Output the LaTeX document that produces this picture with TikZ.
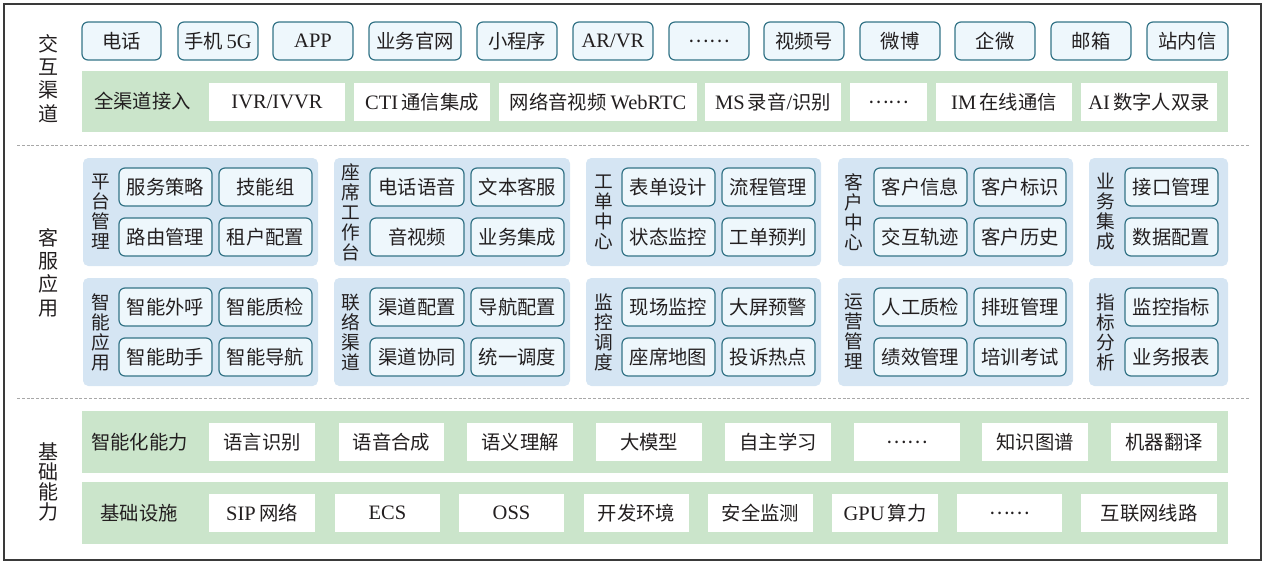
\documentclass[tikz,border=0pt]{standalone}
\usepackage{fontspec}
\setmainfont{Noto Sans CJK SC}
\newfontfamily\lat[Scale=1.06]{Liberation Serif}
\definecolor{chanfill}{HTML}{EEF7FC}
\definecolor{chanline}{HTML}{347487}
\definecolor{bandfill}{HTML}{CBE5CB}
\definecolor{panelfill}{HTML}{D5E5F3}
\definecolor{txt}{HTML}{231F20}
\definecolor{sepgray}{HTML}{A8A8A8}
\definecolor{framegray}{HTML}{3A3A3A}
\newcommand\mydots{\vphantom{电}\raisebox{0.3em}{……}}
\tikzset{
  base/.style={inner sep=0pt, outer sep=0pt, text=txt, font=\fontsize{14.5}{17}\selectfont},
  chan/.style={base, fill=chanfill, draw=chanline, line width=0.9pt, rounded corners=4.5pt},
  band/.style={base, fill=bandfill},
  wbox/.style={base, fill=white},
  panel/.style={base, fill=panelfill, rounded corners=4pt},
  frm/.style={base, draw=framegray, line width=1.2pt},
  vlab/.style={base, align=center, font=\fontsize{14}{15}\selectfont},
  sidelab/.style={base, align=center, font=\fontsize{15}{17.5}\selectfont},
  sidelabb/.style={base, align=center, font=\fontsize{15}{15.2}\selectfont},
  plab/.style={base},
  sep/.style={draw=sepgray, line width=0.8pt, dash pattern=on 2.2pt off 1.4pt},
}
\newcommand\rbox[7]{%
  \pgfmathsetmacro\rbw{(#5-#3)*0.75}%
  \pgfmathsetmacro\rbh{(#6-#4)*0.75}%
  \node[#1, minimum width=\rbw pt, minimum height=\rbh pt] (#2) at ({(#3+#5)/2},{(#4+#6)/2}) {#7};}
\begin{document}
\begin{tikzpicture}[x=0.75pt,y=-0.75pt]
\useasboundingbox (0,0) rectangle (1268,565);
\rbox{frm}{frame}{4}{4}{1261}{560}{}
% separators
\coordinate (s1a) at (17,145.5); \coordinate (s1b) at (1249,145.5);
\coordinate (s2a) at (17,398.5); \coordinate (s2b) at (1249,398.5);
\draw[sep] (s1a) -- (s1b);
\draw[sep] (s2a) -- (s2b);
% side labels
\node[sidelab] (L1) at (48,78.5) {交\\互\\渠\\道};
\node[sidelab] (L2) at (48,272.5) {客\\服\\应\\用};
\node[sidelabb] (L3) at (48,482) {基\\础\\能\\力};
% top channel row
\rbox{chan}{t1}{82}{22}{161}{60}{电话}
\rbox{chan}{t2}{178}{22}{258}{60}{手机{\lat\,5G}}
\rbox{chan}{t3}{273}{22}{353}{60}{{\lat APP}}
\rbox{chan}{t4}{369}{22}{461}{60}{业务官网}
\rbox{chan}{t5}{477}{22}{557}{60}{小程序}
\rbox{chan}{t6}{573}{22}{653}{60}{{\lat AR/VR}}
\rbox{chan}{t7}{669}{22}{749}{60}{\mydots}
\rbox{chan}{t8}{764}{22}{844}{60}{视频号}
\rbox{chan}{t9}{860}{22}{940}{60}{微博}
\rbox{chan}{t10}{955}{22}{1035}{60}{企微}
\rbox{chan}{t11}{1051}{22}{1131}{60}{邮箱}
\rbox{chan}{t12}{1147}{22}{1228}{60}{站内信}
% access band
\rbox{band}{b1}{82}{71}{1228}{132}{}
\node[plab] (b1l) at (142.5,101.5) {全渠道接入};
\rbox{wbox}{a1}{209}{83}{345}{121}{{\lat IVR/IVVR}}
\rbox{wbox}{a2}{354}{83}{490}{121}{{\lat CTI}\,通信集成}
\rbox{wbox}{a3}{499}{83}{697}{121}{网络音视频 {\lat WebRTC}}
\rbox{wbox}{a4}{705}{83}{841}{121}{{\lat MS}\,录音{\lat /}识别}
\rbox{wbox}{a5}{850}{83}{927}{121}{\mydots}
\rbox{wbox}{a6}{936}{83}{1072}{121}{{\lat IM}\,在线通信}
\rbox{wbox}{a7}{1081}{83}{1217}{121}{{\lat AI}\,数字人双录}
% application panels row 1
\rbox{panel}{p1}{83}{158}{318}{266}{}
\rbox{panel}{p2}{334}{158}{570}{266}{}
\rbox{panel}{p3}{586}{158}{821}{266}{}
\rbox{panel}{p4}{838}{158}{1073}{266}{}
\rbox{panel}{p5}{1089}{158}{1228}{266}{}
% row 2
\rbox{panel}{q1}{83}{278}{318}{386}{}
\rbox{panel}{q2}{334}{278}{570}{386}{}
\rbox{panel}{q3}{586}{278}{821}{386}{}
\rbox{panel}{q4}{838}{278}{1073}{386}{}
\rbox{panel}{q5}{1089}{278}{1228}{386}{}
% panel labels
\node[vlab] (p1l) at (101,212) {平\\台\\管\\理};
\node[vlab] (p2l) at (351,212) {座\\席\\工\\作\\台};
\node[vlab] (p3l) at (604,212) {工\\单\\中\\心};
\node[vlab] (p4l) at (854,212) {客\\户\\中\\心};
\node[vlab] (p5l) at (1106,212) {业\\务\\集\\成};
\node[vlab] (q1l) at (101,332) {智\\能\\应\\用};
\node[vlab] (q2l) at (351,332) {联\\络\\渠\\道};
\node[vlab] (q3l) at (604,332) {监\\控\\调\\度};
\node[vlab] (q4l) at (854,332) {运\\营\\管\\理};
\node[vlab] (q5l) at (1106,332) {指\\标\\分\\析};
% inner boxes row 1
\rbox{chan}{p1a}{119}{168}{212}{206}{服务策略}
\rbox{chan}{p1b}{219}{168}{312}{206}{技能组}
\rbox{chan}{p1c}{119}{218}{212}{256}{路由管理}
\rbox{chan}{p1d}{219}{218}{312}{256}{租户配置}
\rbox{chan}{p2a}{370}{168}{464}{206}{电话语音}
\rbox{chan}{p2b}{471}{168}{564}{206}{文本客服}
\rbox{chan}{p2c}{370}{218}{464}{256}{音视频}
\rbox{chan}{p2d}{471}{218}{564}{256}{业务集成}
\rbox{chan}{p3a}{622}{168}{715}{206}{表单设计}
\rbox{chan}{p3b}{722}{168}{815}{206}{流程管理}
\rbox{chan}{p3c}{622}{218}{715}{256}{状态监控}
\rbox{chan}{p3d}{722}{218}{815}{256}{工单预判}
\rbox{chan}{p4a}{874}{168}{967}{206}{客户信息}
\rbox{chan}{p4b}{974}{168}{1066}{206}{客户标识}
\rbox{chan}{p4c}{874}{218}{967}{256}{交互轨迹}
\rbox{chan}{p4d}{974}{218}{1066}{256}{客户历史}
\rbox{chan}{p5a}{1125}{168}{1218}{206}{接口管理}
\rbox{chan}{p5c}{1125}{218}{1218}{256}{数据配置}
% inner boxes row 2
\rbox{chan}{q1a}{119}{288}{212}{326}{智能外呼}
\rbox{chan}{q1b}{219}{288}{312}{326}{智能质检}
\rbox{chan}{q1c}{119}{338}{212}{376}{智能助手}
\rbox{chan}{q1d}{219}{338}{312}{376}{智能导航}
\rbox{chan}{q2a}{370}{288}{464}{326}{渠道配置}
\rbox{chan}{q2b}{471}{288}{564}{326}{导航配置}
\rbox{chan}{q2c}{370}{338}{464}{376}{渠道协同}
\rbox{chan}{q2d}{471}{338}{564}{376}{统一调度}
\rbox{chan}{q3a}{622}{288}{715}{326}{现场监控}
\rbox{chan}{q3b}{722}{288}{815}{326}{大屏预警}
\rbox{chan}{q3c}{622}{338}{715}{376}{座席地图}
\rbox{chan}{q3d}{722}{338}{815}{376}{投诉热点}
\rbox{chan}{q4a}{874}{288}{967}{326}{人工质检}
\rbox{chan}{q4b}{974}{288}{1066}{326}{排班管理}
\rbox{chan}{q4c}{874}{338}{967}{376}{绩效管理}
\rbox{chan}{q4d}{974}{338}{1066}{376}{培训考试}
\rbox{chan}{q5a}{1125}{288}{1218}{326}{监控指标}
\rbox{chan}{q5c}{1125}{338}{1218}{376}{业务报表}
% intelligence band
\rbox{band}{b2}{82}{411}{1228}{473}{}
\node[plab] (b2l) at (139.5,442) {智能化能力};
\rbox{wbox}{i1}{209}{423}{315}{461}{语言识别}
\rbox{wbox}{i2}{339}{423}{444}{461}{语音合成}
\rbox{wbox}{i3}{467}{423}{573}{461}{语义理解}
\rbox{wbox}{i4}{596}{423}{702}{461}{大模型}
\rbox{wbox}{i5}{725}{423}{831}{461}{自主学习}
\rbox{wbox}{i6}{854}{423}{960}{461}{\mydots}
\rbox{wbox}{i7}{982}{423}{1088}{461}{知识图谱}
\rbox{wbox}{i8}{1111}{423}{1217}{461}{机器翻译}
% infrastructure band
\rbox{band}{b3}{82}{482}{1228}{544}{}
\node[plab] (b3l) at (139,513) {基础设施};
\rbox{wbox}{f1}{209}{494}{315}{532}{{\lat SIP}\,网络}
\rbox{wbox}{f2}{335}{494}{440}{532}{{\lat ECS}}
\rbox{wbox}{f3}{459}{494}{564}{532}{{\lat OSS}}
\rbox{wbox}{f4}{584}{494}{689}{532}{开发环境}
\rbox{wbox}{f5}{708}{494}{813}{532}{安全监测}
\rbox{wbox}{f6}{832}{494}{938}{532}{{\lat GPU}\,算力}
\rbox{wbox}{f7}{957}{494}{1062}{532}{\mydots}
\rbox{wbox}{f8}{1081}{494}{1217}{532}{互联网线路}
\end{tikzpicture}
\end{document}
